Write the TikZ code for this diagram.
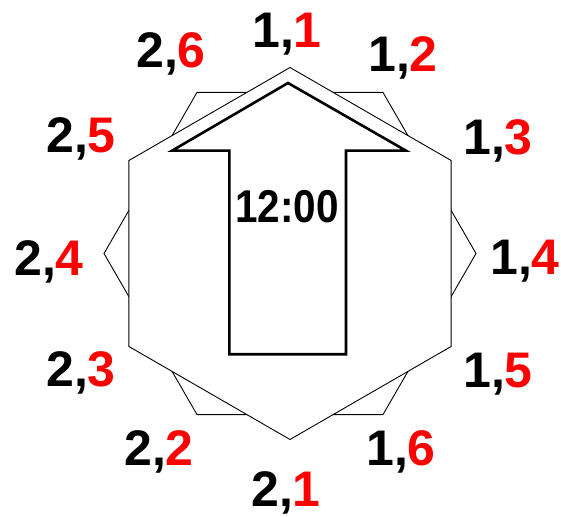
\documentclass[tikz,border=0pt]{standalone}
\usepackage{fontspec}
\setmainfont{Liberation Sans}
\usetikzlibrary{positioning}
\tikzset{
    hexline/.style={black, line width=0.9pt, line join=miter},
    arrowline/.style={black, line width=2.6pt, line join=miter},
    pinlabel/.style={font=\fontsize{50}{50}\selectfont\bfseries, inner sep=0pt, anchor=base},
    timelabel/.style={font=\fontsize{46}{46}\selectfont\bfseries, inner sep=0pt, anchor=base}
}

\begin{document}
\begin{tikzpicture}[x=1pt,y=1pt]
\useasboundingbox (0,0) rectangle (561,516);
\coordinate (hexc) at (290,262.5);
% flat hexagon behind, pointy one in front
\draw[hexline, shift={(hexc)}] (0:186) \foreach \a in {60,120,...,300} {-- (\a:186)} -- cycle;
\filldraw[hexline, fill=white, shift={(hexc)}] (30:186) \foreach \a in {90,150,...,330} {-- (\a:186)} -- cycle;
% arrow
\draw[arrowline] (288,433) -- (172,365.3) -- (229.3,365.3) -- (229.3,161.7)
    -- (346,161.7) -- (346,365.3) -- (406,365.3) -- cycle;
\node[timelabel] (clock) at (287,293) {\scalebox{0.88}[1]{12:00}};
% pin labels
\foreach \s/\p/\x/\y in {1/1/287/468, 1/2/403/444, 1/3/498/361, 1/4/525/241,
    1/5/498/128, 1/6/401/51, 2/1/286/10, 2/2/159/51,
    2/3/81/129, 2/4/49/240, 2/5/81/363, 2/6/171/448}
  \node[pinlabel] (pin\s\p) at (\x,\y) {\s,\textcolor{red}{\p}};
\end{tikzpicture}
\end{document}
